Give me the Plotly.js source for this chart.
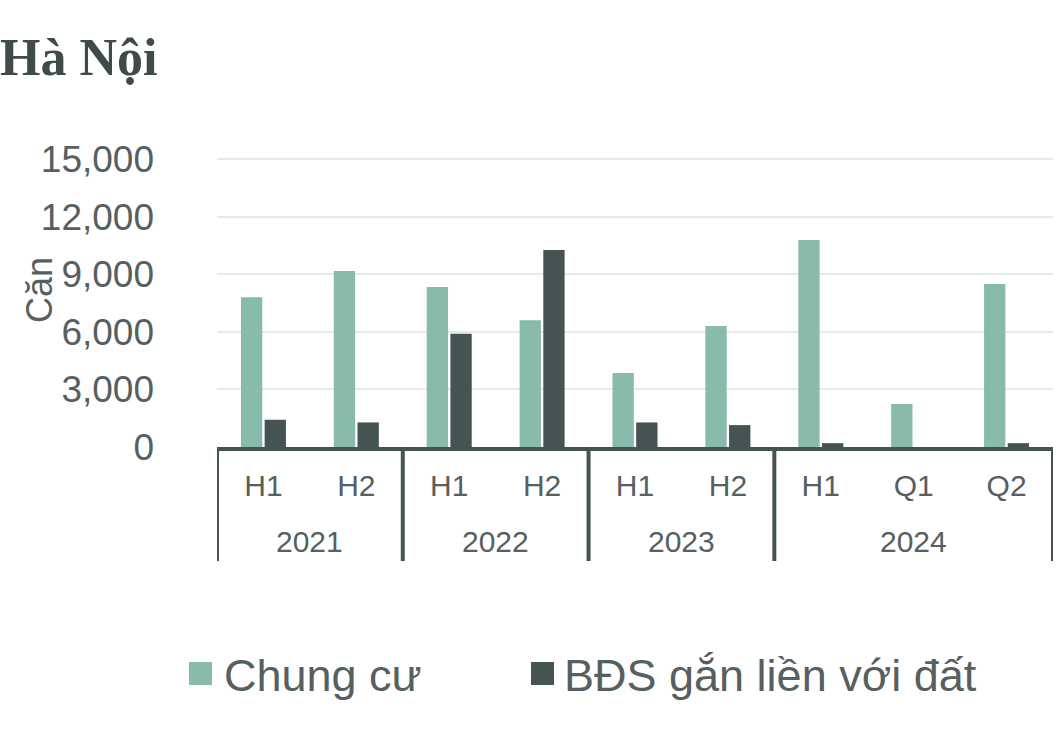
<!DOCTYPE html>
<html>
<head>
<meta charset="utf-8">
<script src="https://cdn.plot.ly/plotly-3.0.1.min.js"></script>
<style>html,body{margin:0;padding:0;background:#fff;}#chart{width:1063px;height:753px;}</style>
</head>
<body>
<div id="chart"></div>
<script>
const years = ["2021","2021","2022","2022","2023","2023","2024","2024","2024"];
const periods = ["H1","H2","H1","H2","H1","H2","H1","Q1","Q2"];
const chungCu = [7800, 9170, 8340, 6600, 3860, 6300, 10790, 2240, 8490];
const bdsDat = [1420, 1280, 5900, 10260, 1280, 1140, 200, 0, 200];
const seriesNames = ["Chung cư", "BĐS gắn liền với đất"];
const yTicks = [0, 3000, 6000, 9000, 12000, 15000];

const teal = "#88BBAC";
const dark = "#455352";
const txt = "#566060";
const font = "Liberation Sans, Arial, sans-serif";

// geometry (pixels) used to convert into paper coordinates
const W = 1063, H = 753, ML = 217, MR = 10, MT = 158, MB = 306;
const PW = W - ML - MR, PH = H - MT - MB;
const px = v => (v - ML) / PW;
const py = v => (H - MB - v) / PH;

const idx = periods.map((_, i) => i);

const traces = [
  {type:"bar", name:seriesNames[0], x:idx, y:chungCu, marker:{color:teal}},
  {type:"bar", name:seriesNames[1], x:idx, y:bdsDat, marker:{color:dark}}
];

// year groups derived from the years array
const groups = [];
years.forEach((y, i) => {
  if (!groups.length || groups[groups.length-1].year !== y) groups.push({year:y, start:i, end:i});
  else groups[groups.length-1].end = i;
});

const shapes = [];
const annotations = [];
const boundaries = [groups[0].start - 0.5].concat(groups.map(g => g.end + 0.5));
boundaries.forEach(b => shapes.push({type:"line", xref:"x", yref:"paper", x0:b, x1:b, y0:0, y1:py(561),
  line:{color:dark, width:4}}));
groups.forEach(g => annotations.push({text:g.year, xref:"x", yref:"paper", x:(g.start+g.end)/2, y:py(541),
  showarrow:false, xanchor:"center", yanchor:"middle", font:{size:30, color:txt, family:font}}));

// y-axis title
annotations.push({text:"Căn", xref:"paper", yref:"paper", x:px(39), y:py(290), textangle:-90,
  showarrow:false, font:{size:36, color:txt, family:font}, xanchor:"center", yanchor:"middle"});

// legend
const legendItems = [
  {name:seriesNames[0], color:teal, mx:189, tx:222},
  {name:seriesNames[1], color:dark, mx:531, tx:562}
];
legendItems.forEach(it => {
  shapes.push({type:"rect", xref:"paper", yref:"paper", x0:px(it.mx), x1:px(it.mx+23), y0:py(662), y1:py(685),
    fillcolor:it.color, line:{width:0}});
  annotations.push({text:it.name, xref:"paper", yref:"paper", x:px(it.tx), y:py(675), showarrow:false,
    xanchor:"left", yanchor:"middle", font:{size:45, color:txt, family:font}});
});

const layout = {
  width:W, height:H,
  margin:{l:ML, r:MR, t:MT, b:MB, pad:0},
  paper_bgcolor:"#fff", plot_bgcolor:"#fff",
  barmode:"group", bargap:0.49, bargroupgap:0.1,
  font:{family:font, color:txt},
  showlegend:false,
  title:{text:"<b>Hà Nội</b>", font:{family:"Liberation Serif, Times New Roman, serif", size:52, color:"#3f4b4b"},
         x:0, xref:"container", xanchor:"left", y:1-57/753, yref:"container", yanchor:"middle", pad:{l:0,t:0,b:0,r:0}},
  xaxis:{type:"linear", range:[-0.5, periods.length-0.5], tickvals:idx, ticktext:periods,
         showline:true, linecolor:dark, linewidth:4, showgrid:false, zeroline:false, ticks:"",
         ticklabelstandoff:9, tickfont:{size:30, color:txt, family:font}},
  yaxis:{range:[0,15060], tickvals:yTicks, tickformat:",d", showgrid:true, gridcolor:"#e4ebe9", gridwidth:2,
         zeroline:false, showline:false, ticks:"", ticklabelstandoff:62,
         tickfont:{size:37, color:txt, family:font}},
  shapes:shapes,
  annotations:annotations
};

Plotly.newPlot("chart", traces, layout, {displayModeBar:false, staticPlot:true});
</script>
</body>
</html>
